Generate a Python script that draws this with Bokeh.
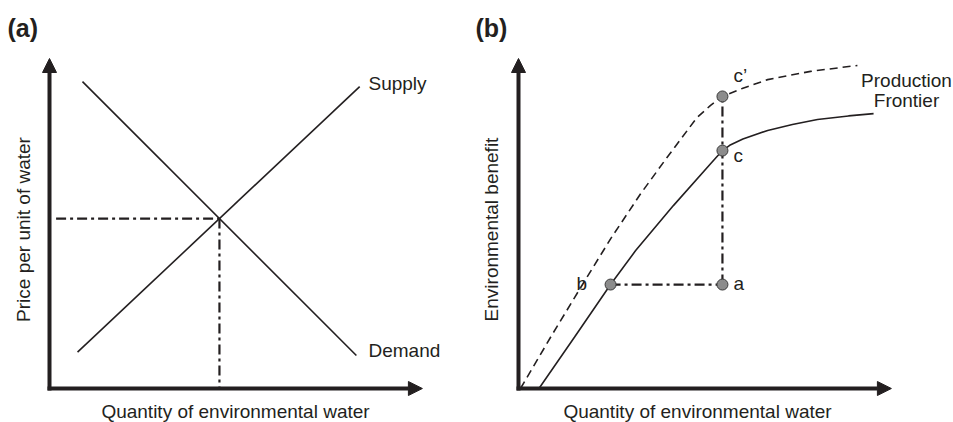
import math
from bokeh.plotting import figure
from bokeh.layouts import row
from bokeh.models import Range1d, Arrow, NormalHead
from bokeh.core.properties import value
from bokeh.embed import file_html
from bokeh.resources import INLINE

# ---------------- data ----------------
# Panel (a): supply and demand for environmental water
demand_q = [1.0, 9.3]
demand_p = [9.3, 1.0]
supply_q = [0.85, 9.4]
supply_p = [1.1, 9.15]
equilibrium_q = 5.15
equilibrium_p = 5.15

# Panel (b): production frontier (solid) and improved frontier (dashed)
frontier_q = [0.62, 1.7, 2.79, 3.55, 4.7, 5.82, 6.18, 6.4, 6.8, 7.55, 8.3, 9.06, 10.0, 10.76]
frontier_b = [0.0, 1.56, 3.15, 4.18, 5.55, 6.81, 7.21, 7.37, 7.56, 7.82, 8.0, 8.15, 8.26, 8.33]
improved_q = [0.06, 1.0, 2.0, 2.8, 3.7, 4.5, 5.4, 5.82, 6.18, 6.8, 7.55, 8.85, 10.27]
improved_b = [0.0, 1.6, 3.25, 4.55, 5.9, 7.0, 8.2, 8.58, 8.85, 9.1, 9.36, 9.61, 9.79]
point_names = ["b", "a", "c", "c\u2019"]
point_q = [2.79, 6.18, 6.18, 6.18]
point_b = [3.15, 3.15, 7.21, 8.85]

# ---------------- styling / layout ----------------
INK = "#231f20"
FONT = value("Liberation Sans")
U = 33.0            # pixels per data unit
OY = 388.0          # picture y of the horizontal axes
OXA, OXB = 49.0, 518.0
H = 422
WA, WB = 470, 483
AX_X, AX_Y = 11.3, 10.0   # axis arrow tips (data units)
DASHDOT = "10 4 3 4"
FS = "19px"


def make_fig(ox, page_left, width):
    p = figure(width=width, height=H, output_backend="svg", toolbar_location=None,
               x_axis_type=None, y_axis_type=None, min_border=0,
               x_range=Range1d((page_left - ox) / U, (page_left + width - ox) / U),
               y_range=Range1d((OY - H) / U, OY / U))
    p.grid.visible = False
    p.outline_line_color = None
    p.background_fill_color = "white"
    p.border_fill_color = "white"
    # axes with arrowheads
    p.add_layout(Arrow(end=NormalHead(size=14, fill_color=INK, line_color=INK),
                       x_start=0, y_start=-2 / U, x_end=0, y_end=AX_Y,
                       line_width=4, line_color=INK))
    p.add_layout(Arrow(end=NormalHead(size=14, fill_color=INK, line_color=INK),
                       x_start=-2 / U, y_start=0, x_end=AX_X, y_end=0,
                       line_width=4, line_color=INK))
    return p


def txt(p, ox, px, py, s, size=FS, align="left", baseline="middle",
        bold=False, angle=0.0):
    p.text(x=[(px - ox) / U], y=[(OY - py) / U], text=[s], text_font=FONT,
           text_font_size=size, text_align=align, text_baseline=baseline,
           text_color=INK, angle=angle,
           text_font_style="bold" if bold else "normal")


# ---------------- panel (a) ----------------
pa = make_fig(OXA, 0, WA)
pa.line(demand_q, demand_p, line_color=INK, line_width=1.6)
pa.line(supply_q, supply_p, line_color=INK, line_width=1.6)
pa.line([0.2, equilibrium_q], [equilibrium_p, equilibrium_p], line_color=INK,
        line_width=2.2, line_dash=DASHDOT)
pa.line([equilibrium_q, equilibrium_q], [equilibrium_p, 0], line_color=INK,
        line_width=2.2, line_dash=DASHDOT)
txt(pa, OXA, 7, 27, "(a)", size="25px", bold=True)
txt(pa, OXA, 368, 83, "Supply")
txt(pa, OXA, 368, 350, "Demand")
txt(pa, OXA, 235, 411, "Quantity of environmental water", align="center",
    baseline="alphabetic")
txt(pa, OXA, 23, 229, "Price per unit of water", align="center", angle=math.pi / 2)

# ---------------- panel (b) ----------------
pb = make_fig(OXB, WA, WB)
pb.line(improved_q, improved_b, line_color=INK, line_width=1.6, line_dash="8 5")
pb.line(frontier_q, frontier_b, line_color=INK, line_width=1.6)
pb.line([point_q[0], point_q[1]], [point_b[0], point_b[1]], line_color=INK,
        line_width=2.2, line_dash=DASHDOT)
pb.line([point_q[1], point_q[3]], [point_b[1], point_b[3]], line_color=INK,
        line_width=2.2, line_dash=DASHDOT)
pb.scatter(point_q, point_b, size=11, fill_color="#8c8c8c", line_color="#3a3a3a",
           line_width=1)
txt(pb, OXB, 475, 27, "(b)", size="25px", bold=True)
label_px = [576, 733, 733, 733]
label_py = [283, 283, 155, 75]
for s, lx, ly in zip(point_names, label_px, label_py):
    txt(pb, OXB, lx, ly, s)
txt(pb, OXB, 906, 80, "Production", align="center")
txt(pb, OXB, 906, 100, "Frontier", align="center")
txt(pb, OXB, 697, 411, "Quantity of environmental water", align="center",
    baseline="alphabetic")
txt(pb, OXB, 491, 229, "Environmental benefit", align="center", angle=math.pi / 2)

layout = row(pa, pb, spacing=0)
open("out.html", "w").write(file_html(layout, INLINE))
